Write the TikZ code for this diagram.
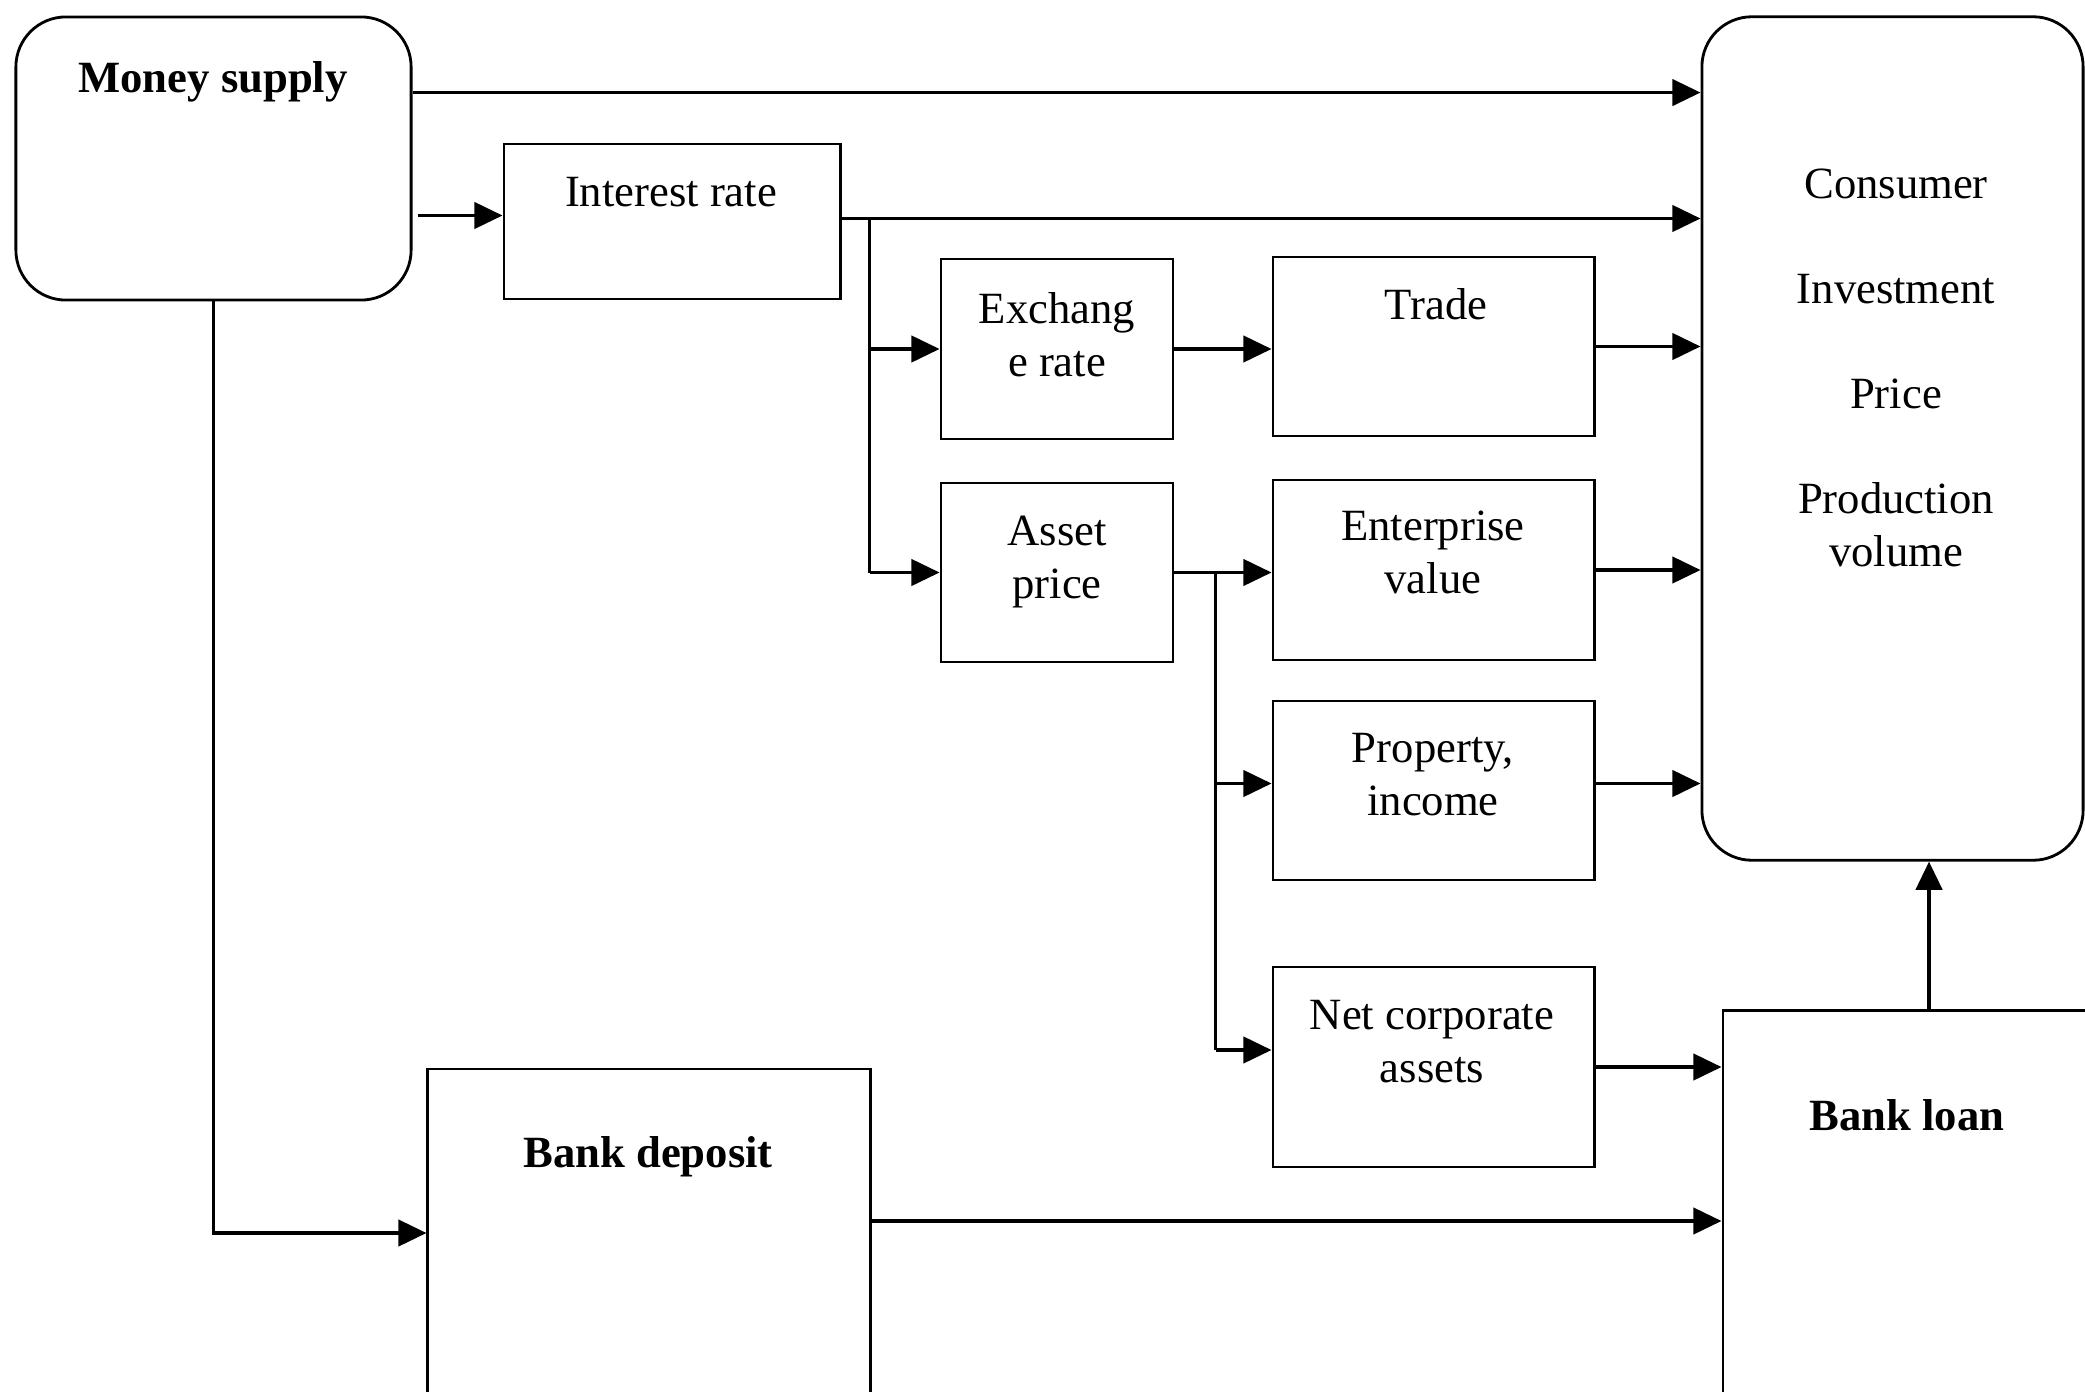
\documentclass[tikz,border=0pt]{standalone}
\usepackage{fontspec}
\setmainfont{Liberation Serif}
\usetikzlibrary{arrows.meta}
\tikzset{
  box/.style={draw, line width=0.8pt, inner sep=0pt},
  roundbox/.style={box, rounded corners=0.5cm},
  txt/.style={align=center, inner sep=0pt, anchor=base},
  ln/.style={line width=0.8pt},
  arr/.style={line width=0.9pt, -{Triangle[length=8pt,width=7.5pt]}}
}
\begin{document}
\begin{tikzpicture}[x=0.01cm, y=-0.01cm, font=\fontsize{12.7pt}{15pt}\selectfont]
\useasboundingbox (0,0) rectangle (2085,1391);
\clip (0,0) rectangle (2085,1391);
% boxes
\node[roundbox, minimum width=3.95cm, minimum height=2.83cm] (money) at (213.5,158.5) {};
\node[box, minimum width=3.36cm, minimum height=1.55cm] (irate) at (672,221.5) {};
\node[box, minimum width=2.32cm, minimum height=1.80cm] (exrate) at (1057,349) {};
\node[box, minimum width=2.32cm, minimum height=1.79cm] (asset) at (1057,572.5) {};
\node[box, minimum width=3.21cm, minimum height=1.79cm] (trade) at (1433.5,346.5) {};
\node[box, minimum width=3.21cm, minimum height=1.80cm] (entval) at (1433.5,570) {};
\node[box, minimum width=3.21cm, minimum height=1.79cm] (prop) at (1433.5,790.5) {};
\node[box, minimum width=3.21cm, minimum height=2.00cm] (netca) at (1433.5,1067) {};
\node[roundbox, minimum width=3.81cm, minimum height=8.43cm] (cons) at (1892.5,438.5) {};
\node[box, minimum width=3.87cm, minimum height=4.09cm] (loan) at (1916.5,1215.5) {};
\node[box, minimum width=4.42cm, minimum height=3.28cm] (deposit) at (649,1233) {};
% texts (base = last line)
\node[txt] (tmoney) at (213,93) {\bfseries Money supply};
\node[txt] (tirate) at (671,207) {Interest rate};
\node[txt] (texrate) at (1057,376) {Exchang\\e rate};
\node[txt] (tasset) at (1057,598) {Asset\\price};
\node[txt] (ttrade) at (1436,319) {Trade};
\node[txt] (tentval) at (1433,593) {Enterprise\\value};
\node[txt] (tprop) at (1433,815) {Property,\\income};
\node[txt] (tnetca) at (1432,1082) {Net corporate\\assets};
\node[txt] (tcons) at (1896,566) {Consumer\\[14.8pt]Investment\\[14.8pt]Price\\[14.8pt]Production\\volume};
\node[txt] (tloan) at (1907,1130) {\bfseries Bank loan};
\node[txt] (tdeposit) at (648,1167) {\bfseries Bank deposit};
% connectors
\draw[arr] ([yshift=-0.77cm]money.north east) coordinate (m1) -- (m1 -| cons.west);
\coordinate (i1) at ([yshift=0.06cm]irate.west);
\draw[arr] (money.east |- i1) ++(5,0) -- (i1);
\draw[arr] ([yshift=0.03cm]irate.east) coordinate (i2) -- (i2 -| cons.west);
\coordinate (br1) at ([xshift=0.28cm]i2);
\draw[ln] (br1) -- (br1 |- asset.west);
\draw[arr] (br1 |- exrate.west) -- (exrate.west);
\draw[arr] (br1 |- asset.west) -- (asset.west);
\draw[arr] (exrate.east) -- (exrate.east -| trade.west);
\draw[arr] (trade.east) -- (trade.east -| cons.west);
\draw[arr] (asset.east) -- (asset.east -| entval.west);
\draw[arr] (entval.east) -- (entval.east -| cons.west);
\coordinate (br2) at ([xshift=0.41cm]asset.east);
\coordinate (p1) at ([yshift=0.07cm]prop.west);
\coordinate (n1) at ([yshift=0.17cm]netca.west);
\draw[ln] (br2) -- (br2 |- n1);
\draw[arr] (br2 |- p1) -- (p1);
\draw[arr] (br2 |- n1) -- (n1);
\draw[arr] ([yshift=0.07cm]prop.east) coordinate (p2) -- (p2 -| cons.west);
\draw[arr] (netca.east) -- (netca.east -| loan.west);
\draw[arr] ([xshift=0.125cm]loan.north) coordinate (l1) -- (l1 |- cons.south);
\draw[arr] (money.south) |- (deposit.west);
\draw[arr] ([yshift=0.12cm]deposit.east) coordinate (d1) -- (d1 -| loan.west);
\end{tikzpicture}
\end{document}
